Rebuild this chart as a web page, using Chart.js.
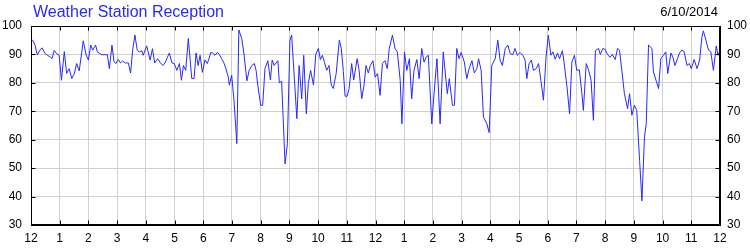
<!DOCTYPE html>
<html>
<head>
<meta charset="utf-8">
<script src="https://cdn.jsdelivr.net/npm/chart.js@4.4.1/dist/chart.umd.min.js"></script>
<style>
  html, body { margin: 0; padding: 0; background: #fff; }
  #wrap { position: relative; width: 750px; height: 250px; }
  #title { position: absolute; left: 33px; top: 4px; font: 16px "Liberation Sans", Arial, sans-serif; line-height: 16px; color: rgb(40,40,255); white-space: nowrap; }
  #date { position: absolute; right: 32px; top: 5px; font: 13px "Liberation Sans", Arial, sans-serif; line-height: 13px; color: #000; white-space: nowrap; }
  canvas { position: absolute; left: 0; top: 0; }
</style>
</head>
<body>
<div id="wrap">
  <canvas id="c" width="750" height="250"></canvas>
  <div id="title">Weather Station Reception</div>
  <div id="date">6/10/2014</div>
</div>
<script>
const monthLabels = ['12','1','2','3','4','5','6','7','8','9','10','11','12','1','2','3','4','5','6','7','8','9','10','11','12'];
const yTicks = [30, 40, 50, 60, 70, 80, 90, 100];

// time position in months since the first "12" tick
const monthPos = [
0.00,0.06,0.14,0.22,0.31,0.39,0.49,0.57,0.66,0.73,0.81,0.89,0.98,1.06,1.16,1.24,1.33,1.42,1.51,1.59,1.68,1.82,1.92,2.00,2.08,2.15,2.25,2.31,2.46,2.66,2.73,2.82,2.89,2.96,
3.04,3.12,3.19,3.28,3.39,3.47,3.54,3.62,3.70,3.77,3.86,3.91,4.03,4.15,4.23,4.31,4.41,4.49,4.59,4.67,4.75,4.82,4.91,4.99,5.08,5.17,5.24,5.31,5.39,5.48,5.60,5.68,5.75,5.82,5.89,5.97,
6.06,6.14,6.20,6.26,6.33,6.41,6.49,6.56,6.64,6.72,6.79,6.87,6.91,6.99,7.07,7.17,7.24,7.34,7.42,7.52,7.60,7.69,7.78,7.84,7.90,8.00,8.07,8.15,8.25,8.34,8.40,8.47,8.60,8.65,8.73,8.85,8.93,
9.02,9.08,9.26,9.34,9.43,9.50,9.59,9.66,9.74,9.84,9.92,10.01,10.08,10.15,10.22,10.30,10.38,10.46,10.53,10.63,10.74,10.81,10.88,10.94,11.01,11.08,11.17,11.24,11.36,11.43,11.52,11.60,11.67,11.75,11.82,11.91,11.99,
12.07,12.16,12.24,12.33,12.41,12.48,12.59,12.68,12.76,12.86,12.92,13.01,13.09,13.18,13.26,13.34,13.44,13.52,13.61,13.69,13.76,13.84,13.96,14.04,14.14,14.25,14.36,14.50,14.57,14.68,14.75,14.83,14.91,14.98,
15.09,15.18,15.26,15.36,15.44,15.53,15.59,15.68,15.76,15.88,15.96,16.05,16.17,16.26,16.34,16.42,16.52,16.61,16.69,16.78,16.86,16.94,17.04,17.13,17.21,17.27,17.35,17.43,17.50,17.60,17.68,17.76,17.85,17.94,
18.02,18.11,18.18,18.26,18.34,18.41,18.51,18.57,18.67,18.76,18.84,18.93,19.01,19.10,19.19,19.24,19.34,19.42,19.51,19.59,19.66,19.77,19.83,19.92,20.00,20.08,20.17,20.25,20.35,20.43,20.50,20.58,20.67,20.78,20.85,20.93,
21.02,21.10,21.20,21.28,21.37,21.43,21.51,21.63,21.68,21.78,21.86,21.94,22.03,22.11,22.18,22.29,22.36,22.43,22.52,22.59,22.67,22.75,22.85,22.93,23.00,23.10,23.20,23.29,23.37,23.42,23.51,23.60,23.68,23.77,23.87,23.93,24.00
];

const reception = [
94.8,95,93.3,89.8,91.5,92.3,90.3,89.7,89.2,88.5,91.4,90.3,89.7,80.9,91,83.3,85,81.5,83.3,86.8,84.2,94.8,89.8,88,93.3,91.5,93.3,90.9,89.9,89.9,85,93.3,87.5,86.8,
88.2,87,87.7,87,87,83.5,91.5,96.8,91.5,90.9,91.3,89.7,93,88,92,87,88.5,87.3,86.1,87,89,90.5,87,86.8,84.4,86.8,80.9,86.1,84.4,95.6,81.5,81.5,90.5,86.1,89.7,83.7,
88.1,86.8,88.5,90.7,90.5,89.7,90.7,90,88.5,87,85,82.1,79.2,82.7,73.9,58.6,98.6,95.6,90,80.7,84.4,86.1,86.8,84.4,79.2,72.1,72.1,85,87.8,81,88,86.1,87.8,80,80.6,51.5,58.6,
95,96.8,67.4,86.1,74.4,89.7,69.1,79.8,84.4,79.2,90,92.1,88.2,89.7,87.3,84.4,86.1,79.2,78,83.3,95,92,84,75.3,75.3,78,86.8,81,88.5,84.4,74.4,79.2,86.1,83.5,86.1,87.8,82,
83.3,75.6,86.8,87.8,85,92.1,96.8,92.1,90.9,80.9,65.6,90.9,84.4,88.5,74.4,84.4,88.2,81.5,92.1,87.3,89,89.7,65.6,76.2,88.5,65.6,90.9,76.2,81.5,72.1,72.1,92.1,88.5,90.7,
87.5,81.5,85,87.8,83.5,85,88.5,84.4,68,65.6,62.5,86.1,88.5,95,88,86.1,92.1,93.3,90.3,89.9,92.1,89.7,90.7,89.7,88,81.5,86.8,88,84.4,85,86.8,80.9,73.9,89,
96.8,89.7,90.9,88.3,90.5,88.5,91.3,87,78.6,69.1,87.3,89.7,84.4,84.6,76.2,70.3,86.8,84.6,80.9,66.8,91.3,92.1,90,92.1,91.8,90,89,90,88.2,92.1,91.5,84.4,76.2,70.9,76.2,68.6,
72.1,70.3,52.7,38.5,61,65.6,93.3,92.1,83.9,80.6,78,88.6,89.7,90.9,83.3,90.5,89,86.1,88.5,90.5,91.5,91,86.1,86.8,85,88.2,85,88,96.2,98.3,95,91.5,90.9,84.4,93,89.7,91.3
];

const points = monthPos.map((m, i) => ({ x: m, y: reception[i] }));

const FONT = { family: '"Liberation Sans", Arial, sans-serif', size: 12 };
const GRID = '#d0d0d0';

const framePlugin = {
  id: 'frame',
  afterDraw(chart) {
    const { ctx, chartArea: { left, right, top, bottom } } = chart;
    const xs = chart.scales.x, ys = chart.scales.y;
    ctx.save();
    ctx.strokeStyle = '#000';
    ctx.lineWidth = 1;
    ctx.beginPath();
    const L = Math.round(left) + 0.5, R = Math.round(right) - 0.5;
    const T = Math.round(top) + 0.5, B = Math.round(bottom) - 0.5;
    ctx.moveTo(L, T); ctx.lineTo(R, T); ctx.lineTo(R, B); ctx.lineTo(L, B); ctx.closePath();
    xs.ticks.forEach(t => {
      const px = Math.round(xs.getPixelForValue(t.value)) + 0.5;
      ctx.moveTo(px, T); ctx.lineTo(px, T + 4);
      ctx.moveTo(px, B); ctx.lineTo(px, B - 4);
    });
    ys.ticks.forEach(t => {
      const py = Math.round(ys.getPixelForValue(t.value)) + 0.5;
      ctx.moveTo(L, py); ctx.lineTo(L + 4, py);
      ctx.moveTo(R, py); ctx.lineTo(R - 4, py);
    });
    ctx.stroke();
    ctx.restore();
  }
};

new Chart(document.getElementById('c'), {
  type: 'line',
  data: {
    datasets: [{
      label: 'Reception',
      data: points,
      borderColor: 'rgb(40,40,255)',
      borderWidth: 1,
      pointRadius: 0,
      tension: 0,
      fill: false
    }]
  },
  options: {
    responsive: false,
    animation: false,
    layout: { padding: { top: 26, left: 0, right: 0, bottom: 0 } },
    plugins: { legend: { display: false }, title: { display: false }, tooltip: { enabled: false } },
    scales: {
      x: {
        type: 'linear', min: 0, max: 24,
        afterFit(s) { s.height = 25; },
        afterBuildTicks(s) { s.ticks = monthLabels.map((_, i) => ({ value: i })); },
        ticks: { stepSize: 1, autoSkip: false, maxRotation: 0, padding: 6, color: '#000', font: FONT,
                 callback: (v) => monthLabels[Math.round(v)] },
        grid: { color: GRID, drawTicks: false },
        border: { color: '#000' }
      },
      y: {
        position: 'left', min: 30, max: 100,
        afterFit(s) { s.width = 31; },
        afterBuildTicks(s) { s.ticks = yTicks.map(v => ({ value: v })); },
        ticks: { padding: 9, color: '#000', font: FONT },
        grid: { color: GRID, drawTicks: false },
        border: { color: '#000' }
      },
      y2: {
        position: 'right', min: 30, max: 100,
        afterFit(s) { s.width = 30; },
        afterBuildTicks(s) { s.ticks = yTicks.map(v => ({ value: v })); },
        ticks: { padding: 7, color: '#000', font: FONT },
        grid: { drawOnChartArea: false, drawTicks: false },
        border: { color: '#000' }
      }
    }
  },
  plugins: [framePlugin]
});
</script>
</body>
</html>
